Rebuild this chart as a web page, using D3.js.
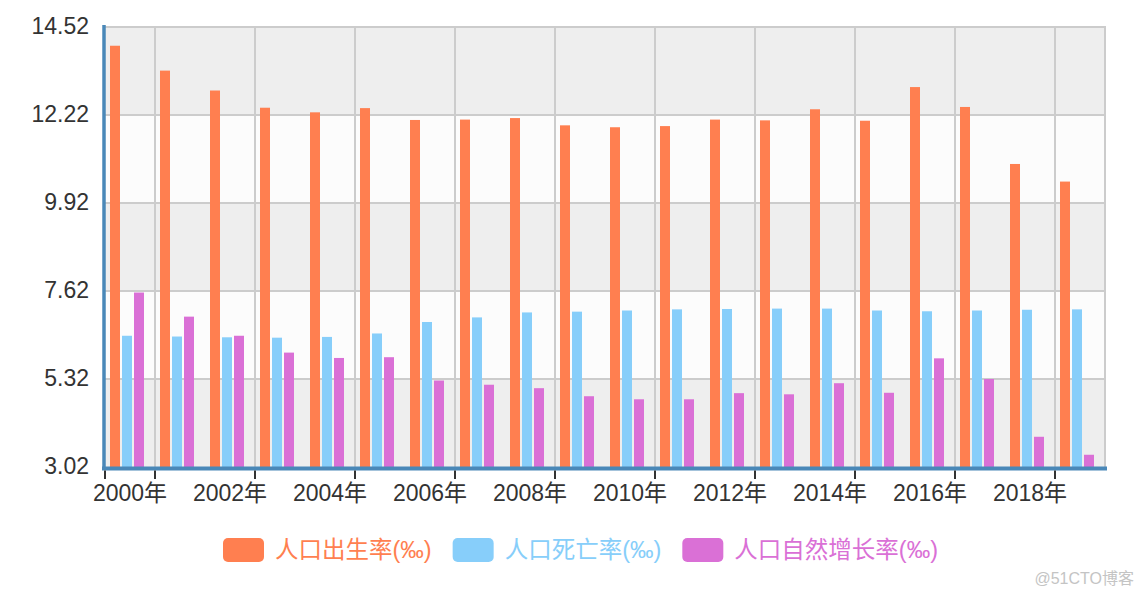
<!DOCTYPE html>
<html>
<head>
<meta charset="utf-8">
<script src="https://cdn.jsdelivr.net/npm/d3@7/dist/d3.min.js"></script>
<style>
  html, body { margin: 0; padding: 0; background: #fff; }
  svg { display: block; }
  text { font-family: "Liberation Sans", Arial, "Noto Sans CJK SC", sans-serif; }
</style>
</head>
<body>
<svg id="chart" width="1144" height="596"></svg>
<script>
const years = ["2000年","2001年","2002年","2003年","2004年","2005年","2006年","2007年","2008年","2009年",
               "2010年","2011年","2012年","2013年","2014年","2015年","2016年","2017年","2018年","2019年"];
const birthRate = [14.03,13.38,12.86,12.41,12.29,12.40,12.09,12.10,12.14,11.95,11.90,11.93,12.10,12.08,12.37,12.07,12.95,12.43,10.94,10.48];
const deathRate = [6.45,6.43,6.41,6.40,6.42,6.51,6.81,6.93,7.06,7.08,7.11,7.14,7.15,7.16,7.16,7.11,7.09,7.11,7.13,7.14];
const growthRate = [7.58,6.95,6.45,6.01,5.87,5.89,5.28,5.17,5.08,4.87,4.79,4.79,4.95,4.92,5.21,4.96,5.86,5.32,3.81,3.34];
const seriesNames = ["人口出生率(‰)","人口死亡率(‰)","人口自然增长率(‰)"];
const seriesColors = ["#FF7F50","#87CEFA","#DA70D6"];
const yTicks = [3.02,5.32,7.62,9.92,12.22,14.52];

const series = [birthRate, deathRate, growthRate];

const svg = d3.select("#chart");
const pLeft = 105, pRight = 1105, pTop = 27, pBottom = 467;

const x = d3.scaleBand().domain(years).range([pLeft, pRight]).paddingInner(0).paddingOuter(0);
const xs = d3.scaleBand().domain(seriesNames).range([5, 39]).paddingInner(2/12).paddingOuter(0);
const y = d3.scaleLinear().domain([yTicks[0], yTicks[yTicks.length-1]]).range([pBottom, pTop]);

// split areas
const bands = d3.pairs(yTicks);
svg.append("g").selectAll("rect").data(bands).join("rect")
  .attr("x", pLeft).attr("width", pRight - pLeft)
  .attr("y", d => y(d[1])).attr("height", d => y(d[0]) - y(d[1]))
  .attr("fill", (d, i) => i % 2 === 0 ? "#eeeeee" : "#fcfcfc");

// horizontal grid
svg.append("g").selectAll("line").data(yTicks.slice(1)).join("line")
  .attr("x1", pLeft).attr("x2", pRight)
  .attr("y1", d => y(d)).attr("y2", d => y(d))
  .attr("stroke", "#cccccc").attr("stroke-width", 2);

// vertical grid (every other category boundary + right edge)
const vIdx = years.map((d, i) => i).filter(i => i % 2 === 1);
const vx = vIdx.map(i => x(years[i])).concat([pRight]);
svg.append("g").selectAll("line").data(vx).join("line")
  .attr("x1", d => d).attr("x2", d => d)
  .attr("y1", pTop - 1).attr("y2", pBottom)
  .attr("stroke", "#cccccc").attr("stroke-width", 2);

// bars
series.forEach((vals, si) => {
  svg.append("g").selectAll("rect").data(vals).join("rect")
    .attr("x", (d, i) => x(years[i]) + xs(seriesNames[si]))
    .attr("width", xs.bandwidth())
    .attr("y", d => y(d))
    .attr("height", d => pBottom - y(d))
    .attr("fill", seriesColors[si]);
});

// axes lines
const axisColor = "#4a88b8";
svg.append("line").attr("x1", 104).attr("x2", 104).attr("y1", 25).attr("y2", 470)
  .attr("stroke", axisColor).attr("stroke-width", 3.5);
svg.append("line").attr("x1", 102).attr("x2", 1107).attr("y1", 468.5).attr("y2", 468.5)
  .attr("stroke", axisColor).attr("stroke-width", 4);

// x ticks
const tickX = [pLeft].concat(vIdx.map(i => x(years[i])));
svg.append("g").selectAll("line").data(tickX).join("line")
  .attr("x1", d => d).attr("x2", d => d).attr("y1", 470.5).attr("y2", 479)
  .attr("stroke", "#333").attr("stroke-width", 2);

// x labels (every other)
svg.append("g").selectAll("text").data(years.filter((d, i) => i % 2 === 0)).join("text")
  .attr("x", d => x(d) + x.bandwidth() / 2)
  .attr("y", 501)
  .attr("text-anchor", "middle")
  .attr("font-size", 23)
  .attr("fill", "#333")
  .text(d => d);

// y labels
svg.append("g").selectAll("text").data(yTicks).join("text")
  .attr("x", 89)
  .attr("y", d => y(d) + 6.5)
  .attr("text-anchor", "end")
  .attr("font-size", 23)
  .attr("fill", "#333")
  .text(d => d.toFixed(2));

// legend
const lg = svg.append("g");
let lx = 223;
seriesNames.forEach((name, i) => {
  lg.append("rect").attr("x", lx).attr("y", 538).attr("width", 41).attr("height", 24)
    .attr("rx", 5).attr("fill", seriesColors[i]);
  const t = lg.append("text").attr("x", lx + 52).attr("y", 550)
    .attr("dominant-baseline", "central")
    .attr("font-size", 23.5)
    .attr("fill", seriesColors[i])
    .text(name);
  const w = t.node().getComputedTextLength();
  lx = lx + 52 + w + 21;
});

// watermark
svg.append("text").attr("x", 1134).attr("y", 584).attr("text-anchor", "end")
  .attr("font-size", 16).attr("fill", "#c4c4c4").text("@51CTO博客");
</script>
</body>
</html>
